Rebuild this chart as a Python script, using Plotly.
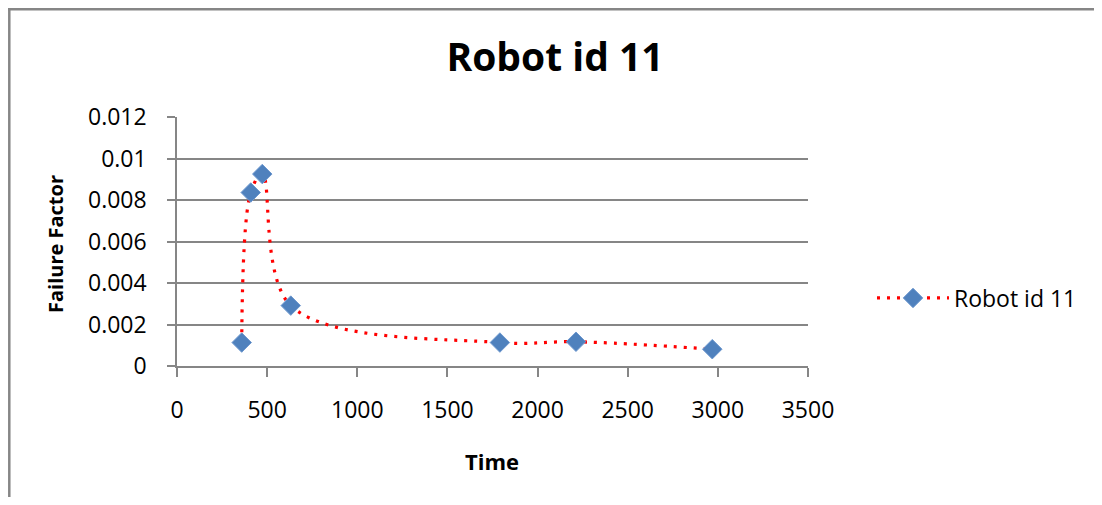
import plotly.graph_objects as go

time = [359, 409, 473, 631, 1791, 2213, 2969]
failure = [0.00113, 0.00836, 0.00925, 0.00291, 0.00113, 0.00117, 0.00081]
series_name = "Robot id 11"
x_ticks = [0, 500, 1000, 1500, 2000, 2500, 3000, 3500]
x_tick_text = ["0", "500", "1000", "1500", "2000", "2500", "3000", "3500"]
y_ticks = [0, 0.002, 0.004, 0.006, 0.008, 0.01, 0.012]
y_tick_text = ["0", "0.002", "0.004", "0.006", "0.008", "0.01", "0.012"]

OFF = 8  # default page body margin
W, H = 1102 - OFF, 505 - 2 * OFF
L, R, T, B = 177 - OFF, 808 - OFF, 117 - OFF, 366 - OFF

fig = go.Figure()
fig.add_trace(go.Scatter(
    x=time, y=failure, name=series_name, mode="lines+markers",
    line=dict(color="#FF0000", width=3.2, dash="3px,7px", shape="spline", smoothing=1),
    marker=dict(symbol="diamond", size=15, color="#4F81BD",
                line=dict(color="#6E98CF", width=1)),
))

def px_x(p):
    return (p - OFF - L) / (R - L)

def px_y(p):
    return (B - (p - OFF)) / (B - T)

fig.add_shape(type="line", xref="paper", yref="paper",
              x0=px_x(9.3), x1=px_x(9.3), y0=px_y(505), y1=px_y(8),
              line=dict(color="#868686", width=2.5))
fig.add_shape(type="line", xref="paper", yref="paper",
              x0=px_x(8), x1=px_x(1102), y0=px_y(9.3), y1=px_y(9.3),
              line=dict(color="#868686", width=2.5))

fig.add_annotation(text="<b>Failure Factor</b>", xref="paper", yref="paper",
                   x=px_x(55), y=px_y(244), xanchor="center", yanchor="middle",
                   textangle=-90, showarrow=False, font=dict(size=20, color="#000000"))
fig.add_annotation(text="<b>Time</b>", xref="paper", yref="paper",
                   x=px_x(492), y=px_y(461), xanchor="center", yanchor="middle",
                   showarrow=False, font=dict(size=22, color="#000000"))

grid = "#868686"
fig.update_layout(
    width=W, height=H,
    margin=dict(l=L, r=W - R, t=T, b=H - B),
    paper_bgcolor="white", plot_bgcolor="white",
    font=dict(family="Open Sans", color="#000000"),
    title=dict(text="<b>Robot id 11</b>", x=(555 - OFF) / W, xanchor="center",
               y=1 - (57 - OFF) / H, yanchor="middle", font=dict(size=39, color="#000000")),
    showlegend=True,
    legend=dict(x=px_x(872), y=px_y(298), xanchor="left", yanchor="middle",
                font=dict(size=23, color="#000000"), itemwidth=72,
                bgcolor="rgba(0,0,0,0)"),
    xaxis=dict(range=[0, 3500], tickvals=x_ticks, ticktext=x_tick_text,
               showgrid=False, zeroline=False, showline=True, linecolor=grid, linewidth=1.5,
               ticks="outside", ticklen=9, tickcolor=grid, tickwidth=1.5,
               tickfont=dict(size=23), ticklabelstandoff=14),
    yaxis=dict(range=[0, 0.012], tickvals=y_ticks, ticktext=y_tick_text,
               showgrid=True, gridcolor=grid, gridwidth=1.5, zeroline=False,
               showline=True, linecolor=grid, linewidth=1.5,
               ticks="outside", ticklen=8, tickcolor=grid, tickwidth=1.5,
               tickfont=dict(size=23), ticklabelstandoff=16),
)

fig.write_html("out.html")
